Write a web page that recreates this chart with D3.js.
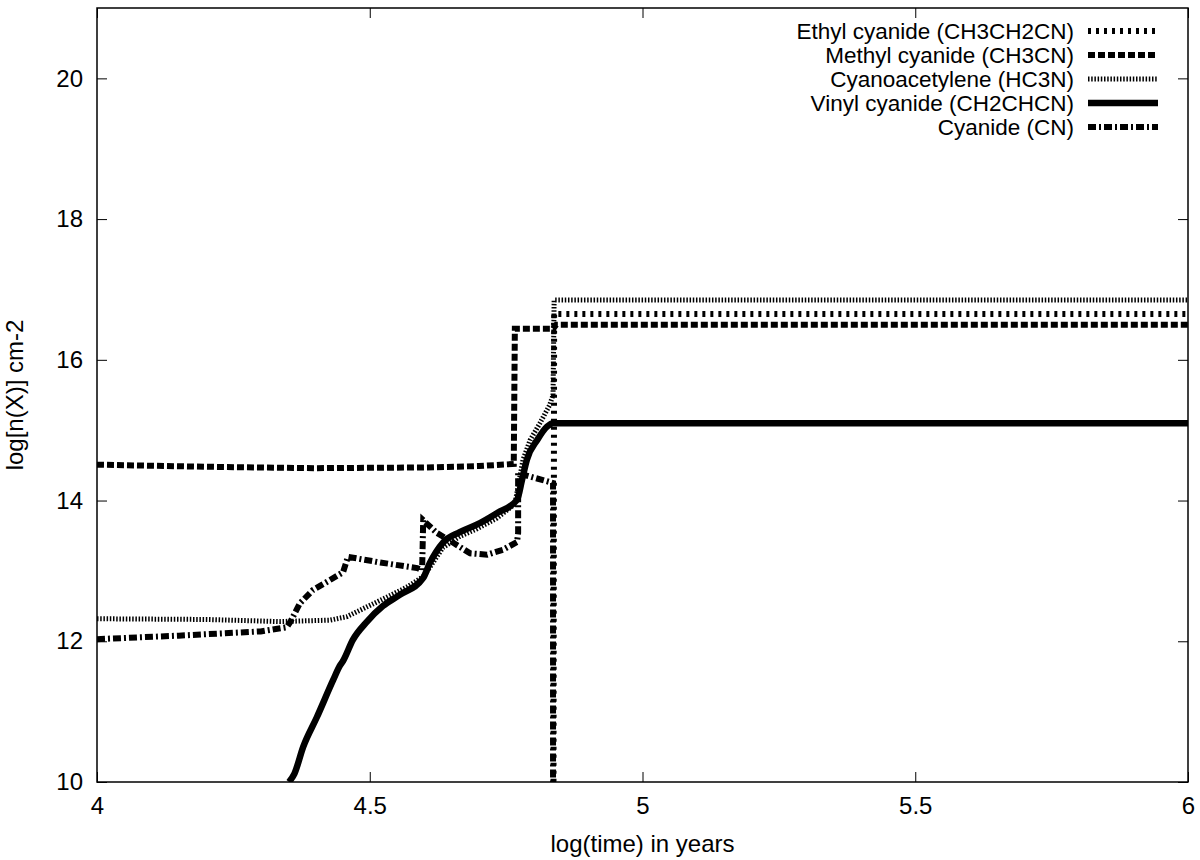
<!DOCTYPE html>
<html lang="en">
<head>
<meta charset="UTF-8">
<title>Cyanide column densities</title>
<script src="https://cdn.jsdelivr.net/npm/d3@7"></script>
<style>
    body { margin: 0; background: #fff; }
    text { font-family: "Liberation Sans", Arial, Helvetica, sans-serif; fill: #000; }
</style>
</head>
<body>
<div id="visual"></div>
<script>
// values (x = log time in years, y = log column density)
var xTicks = [4, 4.5, 5, 5.5, 6];
var yTicks = [10, 12, 14, 16, 18, 20];

var seriesNames = ["Ethyl cyanide (CH3CH2CN)", "Methyl cyanide (CH3CN)",
    "Cyanoacetylene (HC3N)", "Vinyl cyanide (CH2CHCN)", "Cyanide (CN)"];

var ethylX = [4.0, 4.836, 4.838, 6.0];
var ethylY = [5.0, 5.0, 16.65, 16.65];

var methylX = [4.0, 4.2, 4.4, 4.6, 4.7, 4.764, 4.766, 4.836, 4.842, 6.0];
var methylY = [14.51, 14.48, 14.46, 14.47, 14.49, 14.52, 16.44, 16.44, 16.50, 16.50];

var hc3nX = [4.0, 4.2, 4.335, 4.427, 4.458, 4.495, 4.532, 4.568, 4.598, 4.61, 4.634, 4.665, 4.697,
    4.733, 4.766, 4.781, 4.794, 4.812, 4.83, 4.836, 4.838, 6.0];
var hc3nY = [12.32, 12.31, 12.28, 12.30, 12.35, 12.49, 12.63, 12.77, 12.92, 13.05, 13.33, 13.49, 13.60,
    13.75, 13.95, 14.58, 14.86, 15.10, 15.36, 15.5, 16.85, 16.85];

var vinylX = [4.352, 4.362, 4.378, 4.403, 4.433, 4.445, 4.451, 4.469, 4.495, 4.524, 4.555, 4.598,
    4.61, 4.634, 4.665, 4.697, 4.733, 4.77, 4.779, 4.788, 4.807, 4.825, 4.836, 6.0];
var vinylY = [10.0, 10.12, 10.5, 10.92, 11.45, 11.65, 11.72, 12.02, 12.28, 12.5, 12.66, 12.9,
    13.11, 13.4, 13.55, 13.66, 13.82, 14.01, 14.29, 14.58, 14.86, 15.05, 15.10, 15.10];

var cnX = [4.0, 4.15, 4.3, 4.348, 4.354, 4.372, 4.396, 4.427, 4.451, 4.46, 4.519, 4.587, 4.596,
    4.598, 4.623, 4.653, 4.684, 4.715, 4.744, 4.77, 4.772, 4.772, 4.799, 4.836, 4.836, 6.0];
var cnY = [12.03, 12.08, 12.14, 12.2, 12.27, 12.54, 12.73, 12.87, 12.98, 13.2, 13.12, 13.04, 13.01,
    13.72, 13.54, 13.4, 13.25, 13.23, 13.3, 13.41, 13.54, 14.39, 14.33, 14.25, 5.0, 5.0];

var seriesX = [ethylX, methylX, hc3nX, vinylX, cnX];
var seriesY = [ethylY, methylY, hc3nY, vinylY, cnY];
var dashes = ["3,5", "7,3", "1.5,1.7", null, "8,3,2,3"];
var widths = [6, 6, 5, 6.5, 6];

var width = 1200, height = 860;
var margin = {left: 97, right: 12, top: 8, bottom: 78};
var fontSize = "24px";

var svg = d3.select("#visual").append("svg")
    .attr("width", width)
    .attr("height", height);

var x = d3.scaleLinear().domain([4, 6]).range([margin.left, width - margin.right]);
var y = d3.scaleLinear().domain([10, 21]).range([height - margin.bottom, margin.top]);

svg.append("clipPath").attr("id", "plotClip")
    .append("rect")
    .attr("x", x(4)).attr("y", y(21))
    .attr("width", x(6) - x(4)).attr("height", y(10) - y(21));

// series (vinyl drawn smooth, the rest straight segments)
var line = d3.line().x(function (d) { return x(d[0]); }).y(function (d) { return y(d[1]); });
var smoothLine = d3.line().curve(d3.curveMonotoneX)
    .x(function (d) { return x(d[0]); }).y(function (d) { return y(d[1]); });

var plot = svg.append("g").attr("clip-path", "url(#plotClip)");
seriesX.forEach(function (xs, i) {
    var pts = xs.map(function (v, j) { return [v, seriesY[i][j]]; });
    plot.append("path")
        .attr("d", i === 3 ? smoothLine(pts) : line(pts))
        .attr("fill", "none")
        .attr("stroke", "#000")
        .attr("stroke-width", widths[i])
        .attr("stroke-dasharray", dashes[i])
        .attr("stroke-linejoin", "miter");
});

// axes: ticks inward, mirrored on top and right
var tickLen = 10;
var bottomAxis = d3.axisBottom(x).tickValues(xTicks).tickSizeInner(-tickLen).tickSizeOuter(0)
    .tickPadding(15).tickFormat(d3.format("~g"));
var topAxis = d3.axisTop(x).tickValues(xTicks).tickSizeInner(-tickLen).tickSizeOuter(0).tickFormat("");
var leftAxis = d3.axisLeft(y).tickValues(yTicks).tickSizeInner(-tickLen).tickSizeOuter(0)
    .tickPadding(14).tickFormat(d3.format("d"));
var rightAxis = d3.axisRight(y).tickValues(yTicks).tickSizeInner(-tickLen).tickSizeOuter(0).tickFormat("");

function styleAxis(g) {
    g.select(".domain").remove();
    g.selectAll(".tick line").attr("stroke", "#000").attr("stroke-width", 1);
    g.selectAll("text").style("font-size", fontSize)
        .style("font-family", "'Liberation Sans', Arial, sans-serif").attr("fill", "#000");
}

svg.append("g").attr("transform", "translate(0," + y(10) + ")").call(bottomAxis).call(styleAxis);
svg.append("g").attr("transform", "translate(0," + y(21) + ")").call(topAxis).call(styleAxis);
svg.append("g").attr("transform", "translate(" + x(4) + ",0)").call(leftAxis).call(styleAxis);
svg.append("g").attr("transform", "translate(" + x(6) + ",0)").call(rightAxis).call(styleAxis);

svg.append("rect")
    .attr("x", x(4)).attr("y", y(21))
    .attr("width", x(6) - x(4)).attr("height", y(10) - y(21))
    .attr("fill", "none").attr("stroke", "#000").attr("stroke-width", 1.5);

// axis titles
svg.append("text")
    .attr("x", (x(4) + x(6)) / 2).attr("y", 852)
    .attr("text-anchor", "middle")
    .style("font-size", fontSize)
    .text("log(time) in years");

svg.append("text")
    .attr("transform", "translate(23," + y(15.5) + ") rotate(-90)")
    .attr("text-anchor", "middle")
    .style("font-size", fontSize)
    .text("log[n(X)] cm-2");

// legend
var legend = svg.append("g");
seriesNames.forEach(function (name, i) {
    var ly = 31 + i * 24;
    legend.append("text")
        .attr("x", 1074).attr("y", ly)
        .attr("dy", "0.35em")
        .attr("text-anchor", "end")
        .style("font-size", "22.5px")
        .text(name);
    legend.append("line")
        .attr("x1", 1088).attr("x2", 1158)
        .attr("y1", ly).attr("y2", ly)
        .attr("stroke", "#000")
        .attr("stroke-width", widths[i])
        .attr("stroke-dasharray", dashes[i]);
});
</script>
</body>
</html>
